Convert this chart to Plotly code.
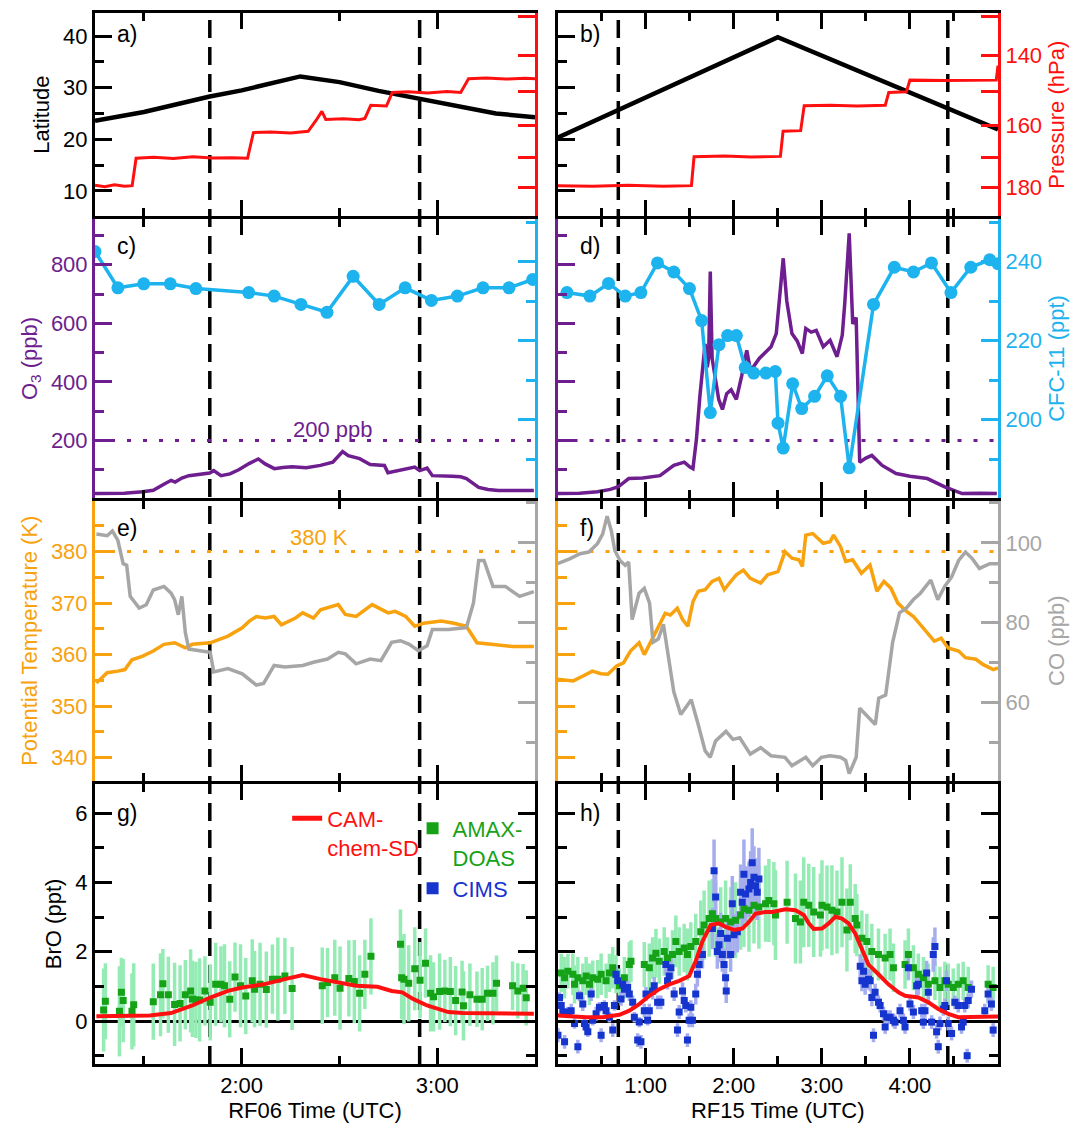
import plotly.graph_objects as go

# ---------------- data (hours UTC) ----------------
# a) RF06 latitude and pressure
LAT_T_A = [1.25, 1.50, 1.837, 2.00, 2.30, 2.50, 2.70, 2.91, 3.10, 3.30, 3.50]
LAT_A = [23.6, 25.3, 28.3, 29.5, 32.2, 31.1, 29.4, 27.8, 26.5, 25.0, 24.3]
PRES_T_A = [1.25, 1.30, 1.35, 1.40, 1.44, 1.46, 1.55, 1.65, 1.75, 1.85,
            1.95, 2.03, 2.06, 2.15, 2.25, 2.34, 2.38, 2.41, 2.43, 2.52,
            2.60, 2.63, 2.66, 2.74, 2.77, 2.85, 2.95, 3.05, 3.12, 3.16,
            3.25, 3.35, 3.45, 3.50]
PRES_A = [179.3, 179.8, 179.1, 179.6, 179.4, 170.3, 170.0, 170.4, 169.8, 170.2,
          170.1, 170.3, 162.2, 162.0, 162.3, 161.8, 158.5, 155.8, 158.2, 158.0,
          158.3, 157.9, 154.0, 154.2, 150.3, 150.1, 150.4, 150.0, 150.3, 146.4,
          146.2, 146.5, 146.3, 146.4]

# b) RF15 latitude and pressure
LAT_T_B = [0.0, 2.50, 5.0]
LAT_B = [20.3, 39.8, 21.9]
PRES_T_B = [0.0, 0.4, 0.8, 1.2, 1.52, 1.55, 1.9, 2.2, 2.53, 2.56,
            2.76, 2.80, 3.1, 3.4, 3.72, 3.76, 3.96, 4.00, 4.4, 4.8,
            4.98, 5.0]
PRES_B = [179.4, 179.6, 179.3, 179.6, 179.4, 169.8, 169.6, 169.9, 169.7, 161.8,
          161.6, 154.1, 154.0, 154.2, 154.0, 150.3, 150.1, 146.8, 146.9, 146.7,
          146.8, 142.8]

# c) RF06 ozone and CFC-11
O3_T_C = [1.25, 1.40, 1.494, 1.548, 1.60, 1.639, 1.66, 1.694, 1.73, 1.78,
          1.836, 1.857, 1.894, 1.94, 1.985, 2.04, 2.085, 2.12, 2.167, 2.21,
          2.258, 2.33, 2.403, 2.466, 2.516, 2.545, 2.567, 2.603, 2.657, 2.70,
          2.730, 2.748, 2.79, 2.839, 2.885, 2.91, 2.948, 2.975, 3.03, 3.076,
          3.12, 3.149, 3.212, 3.26, 3.312, 3.40, 3.494]
O3_C = [19, 20, 25, 30, 50, 64, 58, 72, 80, 84,
        89, 97, 80, 86, 100, 122, 137, 120, 104, 108,
        110, 107, 115, 126, 162, 148, 144, 138, 118, 117,
        115, 90, 96, 100, 109, 97, 106, 80, 80, 78,
        76, 70, 40, 33, 29, 28, 29]
CFC_T_C = [1.25, 1.367, 1.499, 1.635, 1.766, 2.036, 2.166, 2.303, 2.436, 2.570,
           2.703, 2.836, 2.970, 3.103, 3.234, 3.367, 3.488]
CFC_C = [242.6, 233.4, 234.4, 234.4, 233.2, 232.2, 231.3, 229.2, 227.2, 236.3,
         229.2, 233.4, 230.2, 231.3, 233.4, 233.4, 235.5]

# d) RF15 ozone and CFC-11
O3_T_D = [0.0, 0.25, 0.453, 0.60, 0.690, 0.808, 0.967, 1.163, 1.32, 1.439,
          1.50, 1.537, 1.577, 1.616, 1.675, 1.70, 1.715, 1.734, 1.755, 1.794,
          1.83, 1.872, 1.92, 1.971, 2.030, 2.09, 2.148, 2.19, 2.227, 2.29,
          2.345, 2.424, 2.483, 2.523, 2.562, 2.602, 2.661, 2.72, 2.779, 2.818,
          2.88, 2.937, 3.016, 3.094, 3.173, 3.232, 3.260, 3.311, 3.351, 3.390,
          3.430, 3.50, 3.568, 3.685, 3.843, 4.0, 4.198, 4.395, 4.592, 4.80,
          4.987]
O3_D = [19, 20, 25, 33, 42, 70, 72, 80, 115, 126,
        110, 104, 205, 351, 530, 450, 480, 777, 480, 407,
        340, 306, 360, 373, 340, 420, 508, 440, 453, 480,
        497, 520, 565, 688, 822, 677, 565, 540, 497, 582,
        570, 576, 520, 542, 486, 559, 666, 907, 598, 620,
        126, 140, 149, 115, 87, 78, 70, 42, 19, 20,
        19]
CFC_T_D = [0.107, 0.367, 0.579, 0.769, 0.946, 1.135, 1.32, 1.498, 1.636, 1.734,
           1.833, 1.931, 2.03, 2.13, 2.227, 2.365, 2.472, 2.503, 2.562, 2.669,
           2.772, 2.918, 3.062, 3.213, 3.311, 3.587, 3.823, 4.04, 4.245, 4.466,
           4.691, 4.906, 5.0]
CFC_D = [232.2, 231.3, 234.5, 231.3, 232.2, 239.7, 237.4, 233.2, 225.1, 201.8,
         219.0, 221.3, 221.3, 213.2, 211.8, 211.8, 212.2, 199.1, 192.8, 209.1,
         202.8, 205.9, 211.1, 205.9, 187.8, 229.2, 238.6, 237.4, 239.7, 232.2,
         238.6, 240.5, 239.5]

# e) RF06 potential temperature and CO
THETA_T_E = [1.257, 1.312, 1.367, 1.403, 1.439, 1.494, 1.548, 1.603, 1.657, 1.712,
             1.748, 1.839, 1.930, 2.003, 2.039, 2.075, 2.121, 2.166, 2.203, 2.275,
             2.312, 2.367, 2.403, 2.494, 2.530, 2.585, 2.667, 2.749, 2.785, 2.839,
             2.885, 2.930, 3.021, 3.085, 3.149, 3.203, 3.276, 3.385, 3.494]
THETA_E = [354.5, 356.5, 356.8, 357.1, 359.0, 359.7, 360.7, 362.0, 362.3, 361.3,
           362.0, 362.3, 363.6, 365.2, 366.5, 367.4, 367.1, 367.4, 365.8, 367.1,
           368.1, 367.1, 368.7, 369.7, 367.8, 367.4, 369.7, 368.1, 368.4, 367.4,
           365.5, 366.1, 366.5, 366.1, 365.5, 362.3, 362.0, 361.6, 361.6]
CO_T_E = [1.257, 1.312, 1.339, 1.367, 1.394, 1.412, 1.430, 1.476, 1.512, 1.548,
          1.603, 1.639, 1.657, 1.676, 1.694, 1.712, 1.730, 1.785, 1.839, 1.857,
          1.930, 2.003, 2.075, 2.112, 2.166, 2.221, 2.312, 2.367, 2.439, 2.494,
          2.530, 2.585, 2.657, 2.712, 2.767, 2.812, 2.857, 2.903, 2.948, 2.975,
          3.057, 3.149, 3.185, 3.212, 3.239, 3.285, 3.348, 3.421, 3.494]
CO_E = [102.2, 101.8, 103.0, 100.6, 94.8, 94.4, 86.6, 83.7, 84.5, 88.2,
        89.1, 87.4, 85.8, 82.0, 86.6, 77.5, 73.4, 73.0, 72.6, 67.7,
        68.5, 67.2, 64.4, 64.8, 69.3, 68.9, 69.3, 70.1, 70.9, 72.6,
        72.2, 69.7, 70.9, 70.5, 75.1, 75.5, 74.6, 73.0, 74.2, 78.3,
        78.3, 78.8, 84.9, 95.6, 95.6, 89.1, 89.1, 86.6, 87.8]

# f) RF15 potential temperature and CO
THETA_T_F = [0.0, 0.178, 0.295, 0.395, 0.493, 0.571, 0.671, 0.749, 0.828, 0.926,
             0.985, 1.084, 1.182, 1.222, 1.281, 1.36, 1.42, 1.479, 1.538, 1.597,
             1.676, 1.755, 1.833, 1.893, 1.952, 2.030, 2.109, 2.188, 2.306, 2.385,
             2.503, 2.582, 2.661, 2.74, 2.779, 2.818, 2.897, 2.956, 3.016, 3.094,
             3.133, 3.212, 3.271, 3.35, 3.449, 3.547, 3.626, 3.705, 3.784, 3.863,
             3.962, 4.04, 4.158, 4.277, 4.355, 4.434, 4.553, 4.631, 4.75, 4.828,
             4.947, 5.0]
THETA_F = [355.2, 354.9, 355.9, 356.8, 356.3, 356.2, 357.8, 358.4, 360.7, 362.3,
           360.0, 363.2, 366.4, 368.0, 367.7, 369.0, 366.8, 365.5, 370.3, 372.3,
           372.6, 374.2, 374.8, 372.6, 373.9, 375.5, 376.4, 374.8, 373.9, 375.5,
           376.1, 380.0, 378.7, 378.4, 377.1, 383.2, 383.5, 382.6, 381.6, 381.9,
           383.2, 381.0, 378.1, 378.4, 375.8, 377.4, 372.3, 374.2, 372.9, 370.0,
           368.4, 367.4, 365.1, 362.6, 363.2, 361.3, 360.7, 359.4, 359.1, 358.1,
           357.1, 357.4]
CO_T_F = [0.0, 0.138, 0.256, 0.355, 0.453, 0.512, 0.563, 0.611, 0.650, 0.709,
          0.769, 0.808, 0.847, 0.926, 0.985, 1.045, 1.084, 1.143, 1.202, 1.242,
          1.320, 1.399, 1.479, 1.518, 1.597, 1.676, 1.734, 1.794, 1.912, 1.991,
          2.069, 2.188, 2.306, 2.424, 2.582, 2.661, 2.818, 2.897, 2.996, 3.094,
          3.212, 3.271, 3.311, 3.390, 3.430, 3.568, 3.607, 3.646, 3.725, 3.804,
          3.882, 3.962, 4.040, 4.119, 4.237, 4.316, 4.395, 4.474, 4.553, 4.631,
          4.710, 4.789, 4.907, 5.0]
CO_F = [94.8, 96.0, 97.3, 97.7, 99.8, 102.2, 106.7, 103.0, 98.1, 95.6,
        94.4, 95.2, 80.8, 87.4, 88.6, 84.9, 75.1, 75.9, 79.6, 74.2,
        62.7, 57.0, 59.4, 60.7, 54.5, 47.9, 46.3, 50.4, 52.8, 50.8,
        51.2, 47.1, 48.7, 46.7, 46.3, 44.2, 46.3, 44.2, 46.3, 46.7,
        46.3, 45.5, 42.2, 46.3, 58.6, 55.3, 54.5, 61.1, 61.9, 75.1,
        82.5, 83.7, 85.8, 87.4, 90.7, 85.8, 89.1, 91.5, 95.6, 97.7,
        96.0, 93.6, 94.8, 94.8]

# g) RF06 BrO
CAM_T_G = [1.257, 1.367, 1.530, 1.639, 1.748, 1.839, 1.930, 2.003, 2.112, 2.221,
           2.312, 2.403, 2.512, 2.585, 2.694, 2.767, 2.821, 2.876, 2.948, 3.057,
           3.130, 3.494]
CAM_G = [0.14, 0.14, 0.16, 0.23, 0.45, 0.68, 0.87, 0.97, 1.06, 1.21,
         1.33, 1.21, 1.11, 1.02, 0.99, 0.87, 0.83, 0.64, 0.45, 0.26,
         0.23, 0.21]
AMAX_T_G = [1.294, 1.303, 1.375, 1.385, 1.394, 1.439, 1.448, 1.548, 1.585, 1.597,
            1.625, 1.657, 1.685, 1.712, 1.739, 1.748, 1.766, 1.785, 1.812, 1.839,
            1.867, 1.894, 1.912, 1.939, 1.966, 1.994, 2.021, 2.054, 2.066, 2.094,
            2.126, 2.157, 2.185, 2.221, 2.258, 2.412, 2.439, 2.476, 2.503, 2.548,
            2.576, 2.603, 2.630, 2.661, 2.812, 2.818, 2.830, 2.854, 2.885, 2.912,
            2.940, 2.966, 2.981, 3.012, 3.039, 3.067, 3.094, 3.127, 3.134, 3.167,
            3.203, 3.230, 3.257, 3.285, 3.303, 3.385, 3.412, 3.439, 3.455]
AMAX_G = [0.32, 0.57, 0.28, 0.83, 0.59, 0.28, 0.47, 0.56, 0.76, 1.08,
          0.76, 0.48, 0.51, 0.76, 0.87, 0.64, 0.61, 0.61, 0.87, 0.54,
          1.06, 1.06, 1.02, 0.63, 1.27, 1.02, 0.72, 1.16, 0.92, 1.06,
          0.91, 1.21, 1.21, 1.30, 0.94, 1.02, 1.11, 1.25, 0.95, 1.23,
          1.14, 0.80, 1.35, 1.87, 2.22, 1.25, 1.21, 1.09, 1.51, 1.18,
          1.67, 0.80, 0.70, 0.85, 0.87, 0.85, 0.59, 0.84, 0.44, 0.76,
          0.63, 0.63, 0.80, 0.80, 1.09, 1.02, 0.87, 0.95, 0.67]
AMAX_ERR_G = [1.2, 1.1, 1.3, 1.0, 1.2, 1.1, 1.2, 1.1, 1.2, 1.0,
              1.1, 1.2, 1.1, 1.0, 1.2, 1.1, 1.1, 1.2, 1.0, 1.1,
              1.2, 1.1, 1.2, 1.1, 1.0, 1.2, 1.1, 1.2, 1.1, 1.2,
              1.1, 1.0, 1.2, 1.1, 1.2, 1.1, 1.0, 1.1, 1.2, 1.1,
              1.2, 1.1, 1.0, 1.1, 1.0, 1.2, 1.3, 1.1, 1.2, 1.1,
              1.0, 1.1, 1.0, 1.1, 0.9, 1.0, 1.0, 0.9, 1.0, 0.9,
              0.8, 0.9, 0.8, 0.9, 0.8, 0.7, 0.8, 0.7, 0.8]

# h) RF15 BrO
CAM_T_H = [0.005, 0.137, 0.325, 0.513, 0.702, 0.815, 0.928, 1.042, 1.155, 1.268,
           1.381, 1.494, 1.569, 1.645, 1.739, 1.833, 1.908, 2.003, 2.097, 2.173,
           2.248, 2.361, 2.437, 2.587, 2.701, 2.795, 2.852, 2.908, 3.002, 3.078,
           3.153, 3.229, 3.304, 3.379, 3.455, 3.530, 3.643, 3.756, 3.870, 3.945,
           4.096, 4.209, 4.322, 4.435, 4.549, 4.699, 5.0]
CAM_H = [0.16, 0.13, 0.11, 0.11, 0.18, 0.30, 0.49, 0.73, 0.92, 1.06,
         1.16, 1.30, 1.73, 2.30, 2.77, 2.82, 2.72, 2.63, 2.67, 2.86,
         3.10, 3.15, 3.15, 3.23, 3.20, 3.06, 2.82, 2.66, 2.67, 2.82,
         3.01, 2.96, 2.82, 2.53, 2.11, 1.63, 1.35, 1.06, 0.83, 0.73,
         0.68, 0.54, 0.35, 0.21, 0.11, 0.11, 0.13]
AMAX_T_H = [0.042, 0.080, 0.118, 0.174, 0.193, 0.231, 0.287, 0.325, 0.363, 0.400,
            0.457, 0.495, 0.551, 0.589, 0.627, 0.664, 0.702, 0.759, 0.815, 0.834,
            0.985, 1.042, 1.079, 1.117, 1.155, 1.211, 1.249, 1.305, 1.343, 1.381,
            1.438, 1.475, 1.513, 1.569, 1.626, 1.664, 1.721, 1.758, 1.795, 1.852,
            1.908, 1.965, 2.021, 2.078, 2.116, 2.173, 2.230, 2.286, 2.361, 2.399,
            2.456, 2.474, 2.606, 2.701, 2.757, 2.795, 2.852, 2.908, 2.984, 3.002,
            3.059, 3.115, 3.172, 3.229, 3.285, 3.323, 3.379, 3.398, 3.455, 3.511,
            3.568, 3.643, 3.719, 3.775, 3.813, 3.945, 3.983, 4.040, 4.096, 4.153,
            4.209, 4.284, 4.341, 4.397, 4.435, 4.492, 4.549, 4.605, 4.662, 4.888,
            4.945]
AMAX_H = [1.39, 1.25, 1.44, 1.35, 1.06, 1.25, 1.16, 1.30, 1.06, 1.25,
          1.21, 1.35, 1.16, 1.39, 1.54, 1.35, 1.02, 1.25, 1.63, 1.73,
          1.63, 1.54, 1.82, 1.96, 1.73, 2.01, 1.82, 1.92, 2.30, 2.01,
          2.11, 1.92, 2.15, 2.30, 2.58, 2.77, 2.96, 3.10, 2.96, 2.86,
          2.96, 2.86, 2.91, 3.06, 3.24, 3.20, 3.34, 3.29, 3.39, 3.48,
          3.39, 3.06, 3.43, 2.96, 2.86, 3.43, 3.34, 3.15, 3.06, 3.34,
          3.29, 3.20, 3.15, 3.43, 2.63, 3.43, 2.96, 2.77, 2.39, 2.30,
          2.01, 1.92, 1.82, 1.92, 1.54, 1.63, 1.92, 1.54, 1.35, 1.25,
          1.06, 1.16, 0.97, 1.16, 1.06, 0.97, 1.06, 1.16, 0.97, 1.06,
          0.97]
AMAX_ERR_H = [0.55, 0.6, 0.5, 0.6, 0.55, 0.6, 0.5, 0.55, 0.6, 0.5,
              0.55, 0.6, 0.5, 0.55, 0.6, 0.55, 0.5, 0.6, 0.65, 0.6,
              0.65, 0.7, 0.6, 0.7, 0.65, 0.7, 0.6, 0.7, 0.75, 0.7,
              0.7, 0.75, 0.7, 0.8, 0.9, 1.0, 1.1, 1.0, 1.1, 1.0,
              1.1, 1.0, 1.1, 1.0, 1.1, 1.2, 1.1, 1.2, 1.1, 1.2,
              1.2, 1.3, 1.2, 1.3, 1.2, 1.3, 1.2, 1.3, 1.2, 1.3,
              1.2, 1.3, 1.2, 1.3, 1.2, 1.1, 1.0, 0.9, 0.8, 0.8,
              0.8, 0.75, 0.7, 0.75, 0.7, 0.7, 0.75, 0.65, 0.6, 0.6,
              0.6, 0.55, 0.6, 0.55, 0.6, 0.55, 0.6, 0.55, 0.6, 0.55,
              0.6]
CIMS_T_H = [0.005, 0.023, 0.042, 0.061, 0.080, 0.118, 0.155, 0.193, 0.231, 0.250,
            0.287, 0.306, 0.325, 0.344, 0.382, 0.400, 0.438, 0.476, 0.495, 0.532,
            0.551, 0.589, 0.627, 0.646, 0.664, 0.683, 0.721, 0.740, 0.759, 0.796,
            0.815, 0.853, 0.872, 0.910, 0.928, 0.947, 0.985, 1.004, 1.023, 1.042,
            1.079, 1.098, 1.136, 1.173, 1.230, 1.249, 1.268, 1.287, 1.324, 1.362,
            1.381, 1.419, 1.438, 1.456, 1.475, 1.494, 1.513, 1.532, 1.569, 1.588,
            1.607, 1.645, 1.758, 1.777, 1.795, 1.814, 1.833, 1.852, 1.871, 1.890,
            1.908, 1.915, 1.928, 1.965, 1.984, 2.003, 2.041, 2.078, 2.097, 2.116,
            2.135, 2.173, 2.192, 2.210, 2.230, 2.248, 2.267, 2.286,
            3.436, 3.455, 3.474, 3.492, 3.530, 3.549, 3.568, 3.587, 3.605, 3.643,
            3.662, 3.700, 3.719, 3.738, 3.775, 3.813, 3.831, 3.888, 3.926, 3.945,
            3.983, 4.001, 4.040, 4.077, 4.096, 4.134, 4.153, 4.171, 4.190, 4.209,
            4.247, 4.265, 4.284, 4.303, 4.322, 4.341, 4.379, 4.397, 4.416, 4.435,
            4.473, 4.510, 4.549, 4.586, 4.605, 4.623, 4.650, 4.662, 4.699, 4.850,
            4.888, 4.925, 4.945]
CIMS_H = [-0.41, 0.68, 0.45, 0.26, -0.60, 0.26, 0.30, -0.07, -0.74, 0.73,
          0.49, -0.07, -0.17, -0.31, 0.78, 0.02, 0.21, 0.40, -0.41, 0.45,
          0.30, 0.11, -0.26, 0.45, 1.35, 1.16, 0.64, 1.06, 0.92, 0.97,
          0.78, 0.54, 0.11, -0.55, -0.03, -0.60, 0.30, 0.78, 0.02, 0.30,
          0.87, 1.02, 0.54, 0.54, 1.63, 1.16, 1.30, 1.54, 0.78, -0.26,
          0.26, 0.87, 0.59, 0.45, -0.55, 0.02, 0.40, 0.02, 0.78, 1.35,
          1.63, 1.92, 2.67, 4.34, 3.58, 2.01, 2.20, 2.53, 1.92, 1.63,
          1.25, 0.87, 2.39, 1.92, 3.39, 2.49, 2.58, 3.72, 3.43, 4.24,
          3.67, 3.81, 4.00, 4.57, 4.15, 3.91, 3.72, 4.10,
          1.58, 1.16, 1.44, 1.06, 1.21, 1.16, 0.68, -0.41, 0.83, 0.54,
          0.45, 0.21, -0.17, 0.11, 0.11, 0.02, -0.03, 0.30, 0.02, -0.17,
          1.54, 0.49, 0.26, 1.02, 1.06, 0.30, -0.03, 0.30, 1.39, 0.83,
          -0.03, 1.92, 2.15, -0.31, -0.74, -0.07, 0.35, 0.45, 1.16, -0.07,
          -0.36, 0.54, 0.45, -0.17, -0.03, 0.45, -1.00, 0.59, 0.92, 0.30,
          0.78, 0.49, -0.26]
CIMS_ERR_H = [0.2, 0.15, 0.2, 0.15, 0.2, 0.15, 0.2, 0.15, 0.2, 0.15,
              0.2, 0.15, 0.2, 0.15, 0.2, 0.15, 0.2, 0.15, 0.2, 0.15,
              0.2, 0.15, 0.2, 0.15, 0.25, 0.2, 0.2, 0.25, 0.2, 0.2,
              0.2, 0.2, 0.15, 0.2, 0.15, 0.2, 0.2, 0.2, 0.15, 0.2,
              0.25, 0.25, 0.2, 0.2, 0.3, 0.25, 0.25, 0.3, 0.2, 0.2,
              0.2, 0.25, 0.2, 0.2, 0.2, 0.2, 0.2, 0.2, 0.3, 0.35,
              0.4, 0.4, 0.6, 0.9, 0.8, 0.5, 0.5, 0.6, 0.5, 0.45,
              0.4, 0.35, 0.6, 0.5, 0.8, 0.6, 0.6, 0.8, 0.8, 1.0,
              0.8, 0.8, 0.9, 1.0, 0.9, 0.8, 0.8, 0.9,
              0.35, 0.3, 0.35, 0.3, 0.3, 0.3, 0.25, 0.2, 0.25, 0.2,
              0.2, 0.2, 0.2, 0.2, 0.2, 0.2, 0.2, 0.2, 0.2, 0.2,
              0.35, 0.2, 0.2, 0.3, 0.3, 0.2, 0.2, 0.2, 0.35, 0.25,
              0.2, 0.5, 0.55, 0.2, 0.2, 0.2, 0.2, 0.2, 0.3, 0.2,
              0.2, 0.2, 0.2, 0.2, 0.2, 0.2, 0.2, 0.2, 0.25, 0.2,
              0.25, 0.2, 0.2]

# reference levels and flight markers
O3_REF = 200
THETA_REF = 380
DASH_T_L = [1.837, 2.910]
DASH_T_R = [0.69, 4.43]

# axis ticks
HOURS_L, HOURS_TXT_L, HALF_L = [2, 3], ['2:00', '3:00'], [1.5, 2.5]
HOURS_R, HOURS_TXT_R, HALF_R = [1, 2, 3, 4], ['1:00', '2:00', '3:00', '4:00'], [0.5, 1.5, 2.5, 3.5, 4.5]
PRES_TICKS = [140, 160, 180]
PRES_MINOR = [130, 150, 170]

# ---------------- styling ----------------
FONT = 'Liberation Sans, Arial, Helvetica, sans-serif'
FS = 22
RED = '#FF1010'
PURPLE = '#6E1E8E'
BLUE = '#1DB3EE'
ORANGE = '#F7A20E'
GRAY = '#A6A6A6'
GREEN = '#16A216'
MINT = '#94ECB4'
NAVY = '#1634CE'
LAVENDER = '#A5ADEF'

# rows leave a 3 px gap so the outward-drawn frame lines of neighbours coincide
COL_L, COL_R = [0.0, 0.4873], [0.5122, 1.0]
ROW_A, ROW_C, ROW_E, ROW_G = [0.8065, 1.0], [0.5389, 0.8037], [0.2694, 0.5361], [0.0, 0.2666]
RANGE_L, RANGE_R = [1.25, 3.5], [0.0, 5.0]


def xax(dom, anchor, rng, hours, txt, halves, bottom=False, title=None):
    ax = dict(domain=dom, anchor=anchor, range=rng, showline=True, linecolor='black', linewidth=3,
              mirror='ticks', ticks='inside', ticklen=16, tickwidth=3, tickcolor='black',
              tickmode='array', tickvals=hours, ticktext=txt, showticklabels=bottom,
              tickfont=dict(size=FS, color='black'), showgrid=False, zeroline=False,
              minor=dict(tickmode='array', tickvals=halves, ticks='inside', ticklen=8,
                         tickwidth=3, tickcolor='black'))
    if title:
        ax['title'] = dict(text=title, font=dict(size=FS, color='black'), standoff=2)
    return ax


def yax(anchor, rng, color, labels, title=None, dom=None, side='left', overlaying=None, **kw):
    ax = dict(anchor=anchor, range=rng, side=side, showline=True, linecolor=color, linewidth=3,
              ticks='inside', ticklen=17, tickwidth=3, tickcolor=color,
              showticklabels=labels, tickfont=dict(size=FS, color=color),
              showgrid=False, zeroline=False)
    if overlaying:
        ax['overlaying'] = overlaying
    else:
        ax['domain'] = dom
    if title:
        ax['title'] = dict(text=title, font=dict(size=FS, color=color), standoff=8)
    ax.update(kw)
    return ax


def minor(color, step):
    return dict(ticks='inside', tick0=0, dtick=step, ticklen=9, tickwidth=3, tickcolor=color)


LAT_RANGE = [5.06, 44.5]
PRES_RANGE = [2.2792, 2.1113]
O3_RANGE = [5, 955]
CFC_RANGE = [180.25, 250.75]
THETA_RANGE = [335.5, 389.9]
CO_RANGE = [40.4, 110.6]
BRO_RANGE = [-1.24, 6.85]

lat_kw = dict(tick0=0, dtick=10, minor=minor('black', 5))
pres_kw = dict(type='log', tickmode='array', tickvals=PRES_TICKS,
               minor=dict(tickmode='array', tickvals=PRES_MINOR, ticks='inside', ticklen=17,
                          tickwidth=3, tickcolor=RED))
o3_kw = dict(tick0=0, dtick=200, minor=minor(PURPLE, 100))
cfc_kw = dict(tick0=0, dtick=20, minor=minor(BLUE, 10))
th_kw = dict(tick0=0, dtick=10, minor=minor(ORANGE, 5))
co_kw = dict(tick0=0, dtick=20, minor=minor(GRAY, 10))
bro_kw = dict(tick0=0, dtick=2, minor=minor('black', 1), mirror='ticks',
              zeroline=True, zerolinecolor='black', zerolinewidth=2.5)

layout = dict(
    width=1076, height=1126, margin=dict(l=95, r=74, t=10, b=62),
    paper_bgcolor='white', plot_bgcolor='white',
    font=dict(family=FONT, size=FS, color='black'),
    xaxis=xax(COL_L, 'y', RANGE_L, HOURS_L, HOURS_TXT_L, HALF_L),
    xaxis2=xax(COL_R, 'y2', RANGE_R, HOURS_R, HOURS_TXT_R, HALF_R),
    xaxis3=xax(COL_L, 'y3', RANGE_L, HOURS_L, HOURS_TXT_L, HALF_L),
    xaxis4=xax(COL_R, 'y4', RANGE_R, HOURS_R, HOURS_TXT_R, HALF_R),
    xaxis5=xax(COL_L, 'y5', RANGE_L, HOURS_L, HOURS_TXT_L, HALF_L),
    xaxis6=xax(COL_R, 'y6', RANGE_R, HOURS_R, HOURS_TXT_R, HALF_R),
    xaxis7=xax(COL_L, 'y7', RANGE_L, HOURS_L, HOURS_TXT_L, HALF_L, True, 'RF06 Time (UTC)'),
    xaxis8=xax(COL_R, 'y8', RANGE_R, HOURS_R, HOURS_TXT_R, HALF_R, True, 'RF15 Time (UTC)'),
    yaxis=yax('x', LAT_RANGE, 'black', True, 'Latitude', ROW_A, **lat_kw),
    yaxis2=yax('x2', LAT_RANGE, 'black', False, None, ROW_A, **lat_kw),
    yaxis3=yax('x3', O3_RANGE, PURPLE, True, 'O<sub>3</sub> (ppb)', ROW_C, **o3_kw),
    yaxis4=yax('x4', O3_RANGE, PURPLE, False, None, ROW_C, **o3_kw),
    yaxis5=yax('x5', THETA_RANGE, ORANGE, True, 'Potential Temperature (K)', ROW_E, **th_kw),
    yaxis6=yax('x6', THETA_RANGE, ORANGE, False, None, ROW_E, **th_kw),
    yaxis7=yax('x7', BRO_RANGE, 'black', True, 'BrO (ppt)', ROW_G, **bro_kw),
    yaxis8=yax('x8', BRO_RANGE, 'black', False, None, ROW_G, **bro_kw),
    yaxis9=yax('x', PRES_RANGE, RED, False, None, side='right', overlaying='y', **pres_kw),
    yaxis10=yax('x2', PRES_RANGE, RED, True, 'Pressure (hPa)', side='right', overlaying='y2', **pres_kw),
    yaxis11=yax('x3', CFC_RANGE, BLUE, False, None, side='right', overlaying='y3', **cfc_kw),
    yaxis12=yax('x4', CFC_RANGE, BLUE, True, 'CFC-11 (ppt)', side='right', overlaying='y4', **cfc_kw),
    yaxis13=yax('x5', CO_RANGE, GRAY, False, None, side='right', overlaying='y5', **co_kw),
    yaxis14=yax('x6', CO_RANGE, GRAY, True, 'CO (ppb)', side='right', overlaying='y6', **co_kw),
    legend=dict(x=0.2128, y=0.2535, xanchor='left', yanchor='top', bgcolor='rgba(0,0,0,0)',
                font=dict(size=FS, color=RED), itemwidth=30, valign='top', itemsizing='constant'),
    legend2=dict(x=0.3517, y=0.244, xanchor='left', yanchor='top', bgcolor='rgba(0,0,0,0)',
                 font=dict(size=FS, color=GREEN), itemwidth=30, valign='top', itemsizing='constant'),
    legend3=dict(x=0.3517, y=0.1869, xanchor='left', yanchor='top', bgcolor='rgba(0,0,0,0)',
                 font=dict(size=FS, color=NAVY), itemwidth=30, valign='top', itemsizing='constant'),
)

fig = go.Figure(layout=layout)


def line(x, y, xa, ya, color, width, **kw):
    kw.setdefault('showlegend', False)
    fig.add_trace(go.Scatter(x=x, y=y, xaxis=xa, yaxis=ya, mode='lines',
                             line=dict(color=color, width=width), **kw))


def errbars(x, y, err, xa, ya, color, thick):
    fig.add_trace(go.Scatter(x=x, y=y, xaxis=xa, yaxis=ya, mode='markers', showlegend=False,
                             marker=dict(size=1, color='rgba(0,0,0,0)'),
                             error_y=dict(type='data', array=err, color=color,
                                          thickness=thick, width=0)))


def squares(x, y, xa, ya, color, **kw):
    kw.setdefault('showlegend', False)
    fig.add_trace(go.Scatter(x=x, y=y, xaxis=xa, yaxis=ya, mode='markers',
                             marker=dict(symbol='square', size=7, color=color), **kw))


# a / b
line(LAT_T_A, LAT_A, 'x', 'y', 'black', 4.5)
line(PRES_T_A, PRES_A, 'x', 'y9', RED, 3)
line(LAT_T_B, LAT_B, 'x2', 'y2', 'black', 4.5)
line(PRES_T_B, PRES_B, 'x2', 'y10', RED, 3)

# c / d
line(O3_T_C, O3_C, 'x3', 'y3', PURPLE, 3.5)
fig.add_trace(go.Scatter(x=CFC_T_C, y=CFC_C, xaxis='x3', yaxis='y11', mode='lines+markers',
                         line=dict(color=BLUE, width=3.5), marker=dict(size=13, color=BLUE),
                         showlegend=False))
line(O3_T_D, O3_D, 'x4', 'y4', PURPLE, 3.5)
fig.add_trace(go.Scatter(x=CFC_T_D, y=CFC_D, xaxis='x4', yaxis='y12', mode='lines+markers',
                         line=dict(color=BLUE, width=3.5), marker=dict(size=13, color=BLUE),
                         showlegend=False))

# e / f
line(THETA_T_E, THETA_E, 'x5', 'y5', ORANGE, 3.5)
line(CO_T_E, CO_E, 'x5', 'y13', GRAY, 3.5)
line(THETA_T_F, THETA_F, 'x6', 'y6', ORANGE, 3.5)
line(CO_T_F, CO_F, 'x6', 'y14', GRAY, 3.5)

# g
errbars(AMAX_T_G, AMAX_G, AMAX_ERR_G, 'x7', 'y7', MINT, 3.5)
squares(AMAX_T_G, AMAX_G, 'x7', 'y7', GREEN, showlegend=True, legend='legend2', name='AMAX-<br>DOAS')
line(CAM_T_G, CAM_G, 'x7', 'y7', RED, 4, showlegend=True, legend='legend', name='CAM-<br>chem-SD')

# h
errbars(AMAX_T_H, AMAX_H, AMAX_ERR_H, 'x8', 'y8', MINT, 3.5)
errbars(CIMS_T_H, CIMS_H, CIMS_ERR_H, 'x8', 'y8', LAVENDER, 3.5)
squares(AMAX_T_H, AMAX_H, 'x8', 'y8', GREEN)
squares(CIMS_T_H, CIMS_H, 'x8', 'y8', NAVY, showlegend=True, legend='legend3', name='CIMS')
line(CAM_T_H, CAM_H, 'x8', 'y8', RED, 4)

# flight-segment markers (dashed) and reference levels (dotted)
for t in DASH_T_L:
    fig.add_shape(type='line', xref='x', yref='paper', x0=t, x1=t, y0=0, y1=1, layer='below',
                  line=dict(color='black', width=3.5, dash='18px,9px'))
for t in DASH_T_R:
    fig.add_shape(type='line', xref='x2', yref='paper', x0=t, x1=t, y0=0, y1=1, layer='below',
                  line=dict(color='black', width=3.5, dash='18px,9px'))
for xa, ya in [('x3', 'y3'), ('x4', 'y4')]:
    fig.add_shape(type='line', xref=xa + ' domain', yref=ya, x0=0, x1=1, y0=O3_REF, y1=O3_REF,
                  layer='below', line=dict(color=PURPLE, width=3, dash='4px,12px'))
for xa, ya in [('x5', 'y5'), ('x6', 'y6')]:
    fig.add_shape(type='line', xref=xa + ' domain', yref=ya, x0=0, x1=1, y0=THETA_REF, y1=THETA_REF,
                  layer='below', line=dict(color=ORANGE, width=3, dash='4px,12px'))

fig.add_annotation(x=2.467, y=O3_REF, xref='x3', yref='y3', text='200 ppb', showarrow=False,
                   yanchor='bottom', yshift=-4, font=dict(size=FS, color=PURPLE))
fig.add_annotation(x=2.394, y=THETA_REF, xref='x5', yref='y5', text='380 K', showarrow=False,
                   yanchor='bottom', yshift=0, font=dict(size=FS, color=ORANGE))

# panel letters
for txt, xa, ya, dy in [('a)', 'x', 'y', -6), ('b)', 'x2', 'y2', -6),
                        ('c)', 'x3', 'y3', -12), ('d)', 'x4', 'y4', -12),
                        ('e)', 'x5', 'y5', -12), ('f)', 'x6', 'y6', -12),
                        ('g)', 'x7', 'y7', -14), ('h)', 'x8', 'y8', -14)]:
    fig.add_annotation(x=0, y=1, xref=xa + ' domain', yref=ya + ' domain', text=txt,
                       showarrow=False, xanchor='left', yanchor='top', xshift=20, yshift=dy,
                       font=dict(size=FS + 1, color='black'))

fig.write_html("out.html", config={'displayModeBar': False},
               post_script="document.body.style.margin='0';")
